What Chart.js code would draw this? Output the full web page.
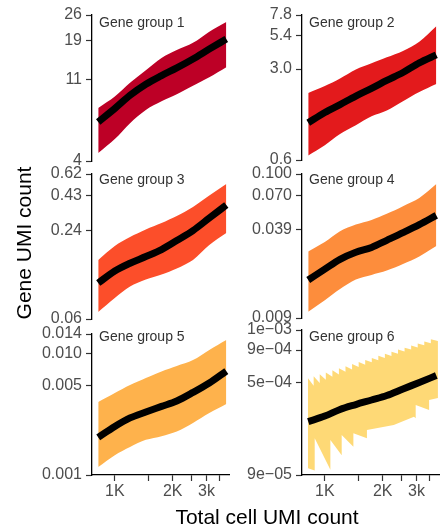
<!DOCTYPE html>
<html>
<head>
<meta charset="utf-8">
<script src="https://cdn.jsdelivr.net/npm/chart.js@4.4.0/dist/chart.umd.min.js"></script>
<style>
html,body{margin:0;padding:0;background:#fff;}
#wrap{position:relative;width:442px;height:527px;overflow:hidden;background:#fff;font-family:"Liberation Sans",Arial,sans-serif;}
#wrap canvas{position:absolute;top:0;}
#xtitle{position:absolute;left:117px;top:505px;width:300px;text-align:center;font-size:21px;line-height:24px;color:#000;}
#ytitle{position:absolute;left:-76px;top:231px;width:200px;height:24px;text-align:center;font-size:21px;line-height:24px;color:#000;transform:rotate(-90deg);}
</style>
</head>
<body>
<div id="wrap">
  <canvas id="c1" width="206" height="527" style="left:30px"></canvas>
  <canvas id="c3" width="206" height="527" style="left:30px"></canvas>
  <canvas id="c5" width="206" height="527" style="left:30px"></canvas>
  <canvas id="c2" width="206" height="527" style="left:236px"></canvas>
  <canvas id="c4" width="206" height="527" style="left:236px"></canvas>
  <canvas id="c6" width="206" height="527" style="left:236px"></canvas>
  <div id="xtitle">Total cell UMI count</div>
  <div id="ytitle">Gene UMI count</div>
</div>
<script>
// ---- data ----
const cellUMI = [820, 1000, 1200, 1450, 1750, 2100, 2550, 3100, 3800];

const g1Mean  = [6.6, 7.84, 9.28, 10.7, 11.96, 13.2, 14.8, 16.8, 19.1];
const g1Upper = [7.9, 9.15, 10.9, 12.8, 15.0, 16.6, 18.2, 21.0, 23.8];
const g1Lower = [4.43, 5.3, 6.5, 7.7, 8.6, 9.4, 10.5, 11.7, 13.3];

const g2Mean  = [1.16, 1.39, 1.60, 1.86, 2.13, 2.45, 2.82, 3.34, 3.85];
const g2Upper = [1.96, 2.22, 2.54, 2.98, 3.32, 3.69, 4.13, 4.87, 6.4];
const g2Lower = [0.65, 0.78, 0.95, 1.11, 1.30, 1.44, 1.70, 2.00, 2.30];

const g3Mean  = [0.1017, 0.1242, 0.1413, 0.1579, 0.1773, 0.2059, 0.2430, 0.2990, 0.3709];
const g3Upper = [0.149, 0.188, 0.218, 0.247, 0.275, 0.309, 0.359, 0.434, 0.526];
const g3Lower = [0.0629, 0.0793, 0.0960, 0.1078, 0.1171, 0.1294, 0.149, 0.191, 0.233];

const g4Mean  = [0.0170, 0.0204, 0.0240, 0.0270, 0.0293, 0.0330, 0.0375, 0.0429, 0.0501];
const g4Upper = [0.0274, 0.0321, 0.0384, 0.0429, 0.0463, 0.0514, 0.0584, 0.067, 0.0845];
const g4Lower = [0.0100, 0.0121, 0.0146, 0.0171, 0.0185, 0.0199, 0.0222, 0.0252, 0.0300];

const g5Mean  = [0.00202, 0.00248, 0.00291, 0.00325, 0.00361, 0.0040, 0.00469, 0.0056, 0.0070];
const g5Upper = [0.00392, 0.00464, 0.00539, 0.00615, 0.00695, 0.0077, 0.0086, 0.0104, 0.0125];
const g5Lower = [0.00116, 0.00145, 0.00169, 0.00193, 0.00207, 0.00226, 0.00265, 0.00319, 0.00378];

const g6Mean  = [2.42e-4, 2.68e-4, 3.03e-4, 3.32e-4, 3.61e-4, 3.92e-4, 4.43e-4, 4.99e-4, 5.68e-4];
const g6UpperX = [817, 875, 875, 941, 941, 1012, 1012, 1095, 1095, 1184, 1184, 1281, 1281, 1386, 1386,
                  1500, 1500, 1622, 1622, 1755, 1755, 1898, 1898, 2053, 2053, 2221, 2221, 2403, 2403,
                  2599, 2599, 2812, 2812, 3042, 3042, 3291, 3291, 3560, 3560, 3874];
const g6UpperY = [5.42e-4, 4.70e-4, 5.61e-4, 4.95e-4, 5.81e-4, 5.25e-4, 6.02e-4, 5.55e-4, 6.26e-4,
                  5.80e-4, 6.50e-4, 6.10e-4, 6.75e-4, 6.35e-4, 7.02e-4, 6.65e-4, 7.30e-4, 6.95e-4,
                  7.57e-4, 7.25e-4, 7.87e-4, 7.55e-4, 8.18e-4, 7.85e-4, 8.49e-4, 8.15e-4, 8.83e-4,
                  8.50e-4, 9.18e-4, 8.85e-4, 9.52e-4, 9.20e-4, 9.90e-4, 9.55e-4, 1.03e-3, 9.95e-4,
                  1.068e-3, 1.035e-3, 1.111e-3, 1.075e-3];
const g6LowerX = [817, 886, 886, 1069, 1069, 1224, 1224, 1408, 1408, 1656, 1656, 2283, 2909, 2969, 2969, 3487, 3487, 3874];
const g6LowerY = [1.02e-4, 0.98e-4, 1.78e-4, 0.99e-4, 1.72e-4, 1.30e-4, 1.89e-4, 1.52e-4, 1.95e-4,
                  1.78e-4, 2.07e-4, 2.27e-4, 2.65e-4, 2.57e-4, 3.29e-4, 3.00e-4, 3.61e-4, 3.74e-4];

// axis ticks
const xTicks = [1000, 1500, 2000, 2500, 3000, 3500];
const xTickLabels = ['1K', '', '2K', '', '3k', ''];
const xRange = [761, 3925];

const g1Ticks = [4, 11.33, 18.67, 26];          const g1TickLabels = ['4', '11', '19', '26'];
const g2Ticks = [0.6, 3.0, 5.4, 7.8];          const g2TickLabels = ['0.6', '3.0', '5.4', '7.8'];
const g3Ticks = [0.056, 0.2443, 0.4327, 0.621]; const g3TickLabels = ['0.06', '0.24', '0.43', '0.62'];
const g4Ticks = [0.009, 0.0393, 0.0697, 0.100]; const g4TickLabels = ['0.009', '0.039', '0.070', '0.100'];
const g5Ticks = [0.001, 0.00533, 0.00967, 0.014]; const g5TickLabels = ['0.001', '0.005', '0.010', '0.014'];
const g6Ticks = [9e-5, 5.0e-4, 9.1e-4, 1.32e-3]; const g6TickLabels = ['9e\u221205', '5e\u221204', '9e\u221204', '1e\u221203'];

// ---- drawing ----
const FONT = '"Liberation Sans", Arial, sans-serif';
const pts = (xs, ys) => xs.map((x, i) => ({x: x, y: ys[i]}));

const panelLabel = {
  id: 'panelLabel',
  afterDraw(chart, args, opts) {
    const {ctx, chartArea} = chart;
    ctx.save();
    ctx.font = '14px ' + FONT;
    ctx.fillStyle = '#333333';
    ctx.textBaseline = 'middle';
    ctx.textAlign = 'left';
    ctx.fillText(opts.text, chartArea.left + 7, opts.y);
    ctx.restore();
  }
};

function makePanel(id, p) {
  const hasX = !!p.xAxis;
  new Chart(document.getElementById(id), {
    type: 'line',
    data: {
      datasets: [
        {data: p.mean, fill: false, borderColor: '#000000', borderWidth: 7, pointRadius: 0,
         cubicInterpolationMode: 'monotone', borderJoinStyle: 'round'},
        {data: p.upper, fill: 2, backgroundColor: p.color, borderWidth: 0, pointRadius: 0, tension: p.tension},
        {data: p.lower, fill: false, borderWidth: 0, pointRadius: 0, tension: p.tension}
      ]
    },
    options: {
      responsive: false,
      animation: false,
      devicePixelRatio: 1,
      events: [],
      layout: {padding: {left: 0, right: p.col ? 3 : 7, top: p.top, bottom: 527 - p.bottom - (hasX ? 30 : 0)}},
      plugins: {
        legend: {display: false}, tooltip: {enabled: false},
        filler: {drawTime: 'beforeDatasetsDraw'},
        panelLabel: {text: p.label, y: p.labelY}
      },
      scales: {
        x: {
          type: 'logarithmic', min: xRange[0], max: xRange[1], display: hasX,
          afterBuildTicks: (s) => { s.ticks = xTicks.map(v => ({value: v})); },
          afterFit: (s) => { if (hasX) s.height = 30; },
          border: {display: true, color: '#000', width: 1.3, z: 1},
          grid: {drawOnChartArea: false, drawTicks: true, tickLength: 6, color: '#333', tickWidth: 1.2},
          ticks: {autoSkip: false, maxRotation: 0, padding: 1, color: '#4d4d4d', font: {size: 16, family: FONT},
                  callback: (v, i) => xTickLabels[i]}
        },
        y: {
          type: 'logarithmic', min: p.ticks[0], max: p.ticks[p.ticks.length - 1],
          afterBuildTicks: (s) => { s.ticks = p.ticks.map(v => ({value: v})); },
          afterFit: (s) => { s.width = p.col ? 66 : 62; },
          border: {display: true, color: '#000', width: 1.3, z: 1},
          grid: {drawOnChartArea: false, drawTicks: true, tickLength: 6, color: '#333', tickWidth: 1.2},
          ticks: {autoSkip: false, padding: 4, color: '#4d4d4d', font: {size: 16, family: FONT},
                  callback: (v, i) => p.tickLabels[i]}
        }
      }
    },
    plugins: [panelLabel]
  });
}

makePanel('c1', {col: 0, top: 15, bottom: 161, labelY: 23, label: 'Gene group 1', color: '#bd0026', tension: 0.3,
  mean: pts(cellUMI, g1Mean), upper: pts(cellUMI, g1Upper), lower: pts(cellUMI, g1Lower), ticks: g1Ticks, tickLabels: g1TickLabels});
makePanel('c2', {col: 1, top: 15, bottom: 160, labelY: 23, label: 'Gene group 2', color: '#e31a1c', tension: 0.3,
  mean: pts(cellUMI, g2Mean), upper: pts(cellUMI, g2Upper), lower: pts(cellUMI, g2Lower), ticks: g2Ticks, tickLabels: g2TickLabels});
makePanel('c3', {col: 0, top: 174, bottom: 319, labelY: 180, label: 'Gene group 3', color: '#fc4e2a', tension: 0.3,
  mean: pts(cellUMI, g3Mean), upper: pts(cellUMI, g3Upper), lower: pts(cellUMI, g3Lower), ticks: g3Ticks, tickLabels: g3TickLabels});
makePanel('c4', {col: 1, top: 174, bottom: 318, labelY: 180, label: 'Gene group 4', color: '#fd8d3c', tension: 0.3,
  mean: pts(cellUMI, g4Mean), upper: pts(cellUMI, g4Upper), lower: pts(cellUMI, g4Lower), ticks: g4Ticks, tickLabels: g4TickLabels});
makePanel('c5', {col: 0, top: 334, bottom: 475, labelY: 337, label: 'Gene group 5', color: '#feb24c', tension: 0.3, xAxis: true,
  mean: pts(cellUMI, g5Mean), upper: pts(cellUMI, g5Upper), lower: pts(cellUMI, g5Lower), ticks: g5Ticks, tickLabels: g5TickLabels});
makePanel('c6', {col: 1, top: 330, bottom: 475, labelY: 337, label: 'Gene group 6', color: '#fed976', tension: 0, xAxis: true,
  mean: pts(cellUMI, g6Mean), upper: pts(g6UpperX, g6UpperY), lower: pts(g6LowerX, g6LowerY), ticks: g6Ticks, tickLabels: g6TickLabels});
</script>
</body>
</html>
